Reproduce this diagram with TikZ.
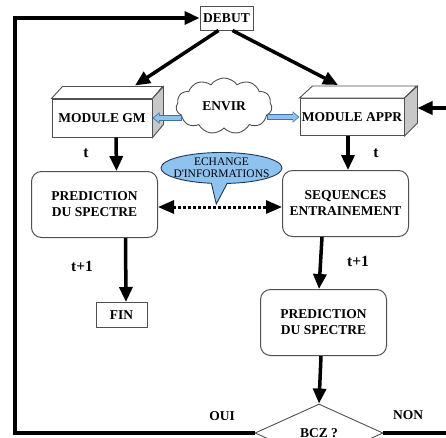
\documentclass[tikz,border=0pt]{standalone}
\usepackage{fontspec}
\setmainfont{Liberation Serif}
\usetikzlibrary{calc}
\usetikzlibrary{positioning}
\usetikzlibrary{arrows.meta}
\usetikzlibrary{shapes.geometric}
\usetikzlibrary{shapes.symbols}
\usetikzlibrary{shapes.callouts}

\definecolor{edgegray}{HTML}{505050}
\definecolor{sidegray}{HTML}{C8C8C8}
\definecolor{skyfill}{HTML}{8EC3F0}
\definecolor{skyline}{HTML}{3F6FA8}

\begin{document}
\begin{tikzpicture}[x=1pt, y=-1pt, font=\fontsize{13.5}{16}\selectfont\bfseries]
    \tikzstyle{box}=[draw=edgegray, line width=1pt, fill=white, inner sep=0pt, align=center]
    \tikzstyle{rbox}=[box, rounded corners=10pt, minimum width=126pt, minimum height=66pt]
    \tikzstyle{cube}=[box, minimum height=38pt]
    \tikzstyle{flow}=[line width=3.5pt, -{Triangle[length=15pt,width=13pt]}]
    \tikzstyle{fatout}=[line width=5.5pt, skyline, -{Triangle[length=7pt,width=11pt]}]
    \tikzstyle{fatin}=[line width=3.5pt, skyfill, -{Triangle[length=5pt,width=8pt]}, shorten >=1.3pt, shorten <=1pt]
    \tikzstyle{lbl}=[inner sep=0pt]
    \tikzstyle{tlbl}=[lbl, font=\fontsize{15.5}{17}\selectfont\bfseries]

    \useasboundingbox (0,0) rectangle (446,437);
    \clip (0,0) rectangle (446,437);

    \node[box, minimum width=53pt, minimum height=24pt] (debut) at (226.5,18) {DEBUT};
    \node[cube, minimum width=100pt] (gm) at (102,118) {MODULE GM};
    \node[cube, minimum width=104pt, minimum height=37pt] (appr) at (352,117) {MODULE APPR};

    % top and side faces of the two modules
    \foreach \m/\w/\d/\h in {gm/100/11/38, appr/104/13/37} {
        \filldraw[draw=edgegray, line width=0.9pt, fill=white] (\m.north west) -- ++(\d,-12) -- ++(\w,0) -- (\m.north east) -- cycle;
        \filldraw[draw=edgegray, line width=0.9pt, fill=sidegray] (\m.north east) -- ++(\d,-12) -- ++(0,\h) -- (\m.south east) -- cycle;
    }

    \node[cloud, draw=edgegray, line width=0.9pt, fill=white, cloud puffs=11, cloud puff arc=110, aspect=1.7,
          minimum width=96pt, minimum height=56pt, inner sep=0pt] (envir) at (224,106) {ENVIR};

    \draw[fatout] ($(envir.west |- gm.east)+(6,0)$) -- (gm.east);
    \draw[fatin] ($(envir.west |- gm.east)+(6,0)$) -- (gm.east);
    \draw[fatout] ($(envir.east |- appr.west)+(-5,0)$) -- (appr.west);
    \draw[fatin] ($(envir.east |- appr.west)+(-5,0)$) -- (appr.west);

    \node[rbox] (pred) at (94.5,204.5) {PREDICTION\\DU SPECTRE};
    \node[rbox] (seq) at (345.5,203.5) {SEQUENCES\\ENTRAINEMENT};
    \node[box, minimum width=51pt, minimum height=25pt, below=64pt of pred, xshift=27pt] (fin) {FIN};
    \node[rbox] (pred2) at (323.5,322.5) {PREDICTION\\DU SPECTRE};
    \node[diamond, draw=edgegray, line width=0.9pt, fill=white, inner sep=0pt, minimum width=128pt, minimum height=58pt] (bcz) at (319,433) {BCZ ?};

    \coordinate (mid) at ($(pred.east)!0.47!(seq.west)$);
    \node[ellipse callout, draw=skyline!50!black, line width=0.9pt, fill=skyfill, align=center,
          font=\fontsize{11.5}{12}\selectfont, inner xsep=-11pt, inner ysep=-3pt,
          minimum width=121pt, minimum height=31pt, callout absolute pointer=(mid)] (echange) at (221.5,168)
          {ECHANGE\\D\textquotesingle INFORMATIONS};

    \node[tlbl] (t1) at (86,153.5) {t};
    \node[tlbl] (t2) at (376,153.5) {t};
    \node[tlbl] (t3) at (82,266) {t+1};
    \node[tlbl] (t4) at (358,261) {t+1};
    \node[lbl] (oui) at (222,416) {OUI};
    \node[lbl] (non) at (408,415) {NON};

    \draw[flow] ([xshift=-8pt]debut.south) -- ([xshift=33pt,yshift=13pt]gm.north);
    \draw[flow] ([xshift=6pt]debut.south) -- ([xshift=-14pt,yshift=13pt]appr.north);
    \draw[flow] ([xshift=14pt]gm.south) -- ([xshift=22pt]pred.north);
    \draw[flow] ([xshift=-4pt]appr.south) -- ([xshift=2.5pt]seq.north);
    \draw[flow] ([xshift=31pt]pred.south) -- ([xshift=4.5pt]fin.north);
    \draw[flow] ([xshift=-23.5pt]seq.south) -- ([xshift=-4.5pt]pred2.north);
    \draw[flow] ([xshift=-2.5pt]pred2.south) -- (bcz.north);
    \draw[line width=3pt, dotted, {Triangle[length=16pt,width=13pt]}-{Triangle[length=16pt,width=13pt]}]
        ([yshift=-2.5pt]pred.east) -- ([yshift=-3.5pt]seq.west);

    % feedback loops
    \coordinate (cornerL) at (15,18);
    \coordinate (cornerR) at (450,108);
    \draw[flow] (bcz.west) -| (cornerL) -- (debut.west);
    \draw[flow] (bcz.east) -| (cornerR) -- ([xshift=13pt,yshift=9pt]appr.east);
\end{tikzpicture}
\end{document}
